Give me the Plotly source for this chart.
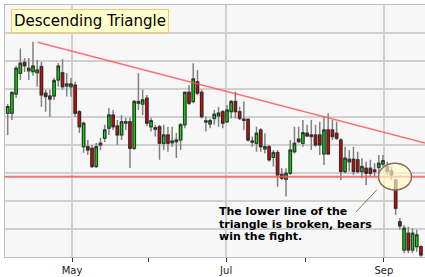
import plotly.graph_objects as go

# ---- data (daily OHLC, trading-day index) ----
opens = [35.13, 35.13, 35.82, 36.56, 36.95, 36.65, 36.62, 36.58, 36.80, 35.85,
         35.75, 35.75, 36.32, 36.58, 36.11, 36.08, 36.14, 35.19, 33.94, 33.94,
         33.88, 33.23, 34.00, 34.24, 34.60, 35.07, 34.68, 34.36, 34.78, 34.83,
         33.88, 35.49, 35.46, 35.67, 34.65, 34.56, 34.65, 34.06, 34.36, 34.08,
         34.12, 34.18, 34.72, 35.88, 35.55, 36.26, 35.88, 34.82, 34.75, 34.95,
         35.04, 35.19, 34.83, 35.19, 35.55, 35.19, 34.88, 34.92, 34.10, 34.06,
         34.54, 33.86, 33.94, 33.56, 33.73, 32.95, 32.78, 32.99, 33.76, 34.21,
         34.06, 34.42, 34.30, 34.36, 34.36, 33.68, 34.54, 34.54, 34.42, 34.18,
         33.05, 33.40, 33.49, 33.47, 33.05, 33.17, 33.17, 33.05, 33.20, 33.32,
         33.23, 33.08, 32.75, 31.26, 30.25, 30.85, 30.25, 30.37, 30.37]
highs = [35.46, 35.93, 36.82, 37.45, 37.11, 37.11, 37.69, 37.04, 36.97, 35.97,
         35.97, 36.39, 36.93, 37.07, 36.57, 36.39, 36.26, 35.25, 34.83, 34.18,
         34.00, 34.07, 34.25, 34.72, 35.32, 35.25, 34.89, 35.07, 34.97, 34.97,
         35.61, 36.56, 35.97, 35.79, 34.97, 34.72, 34.72, 34.72, 34.65, 34.65,
         34.43, 34.79, 35.90, 36.14, 36.92, 36.68, 35.97, 35.01, 34.95, 35.25,
         35.36, 35.25, 35.43, 35.61, 35.90, 35.37, 35.55, 34.95, 34.30, 34.65,
         34.60, 34.42, 34.00, 33.82, 33.82, 33.17, 33.17, 34.18, 34.65, 34.65,
         34.89, 34.72, 34.89, 34.72, 34.83, 35.01, 35.13, 34.89, 34.83, 34.24,
         33.94, 33.82, 33.94, 33.76, 33.53, 33.40, 33.47, 33.35, 33.64, 33.64,
         33.40, 33.23, 32.81, 31.39, 31.14, 31.08, 31.03, 30.97, 30.43]
lows = [34.36, 34.89, 35.68, 36.32, 36.61, 36.32, 36.47, 36.08, 35.37, 35.19,
        35.01, 35.61, 36.08, 35.97, 35.73, 35.72, 35.01, 34.43, 33.72, 33.64,
        33.18, 33.18, 33.82, 34.11, 34.36, 34.54, 34.00, 34.18, 34.54, 33.18,
        33.82, 35.25, 35.07, 34.68, 34.48, 34.30, 33.47, 33.82, 33.76, 33.94,
        33.54, 33.82, 34.60, 35.43, 35.49, 35.79, 34.95, 34.48, 34.60, 34.72,
        34.65, 34.60, 34.78, 34.95, 34.95, 34.89, 34.54, 34.12, 33.94, 33.76,
        33.76, 33.70, 33.40, 33.23, 32.51, 32.75, 32.16, 32.93, 33.70, 34.06,
        33.94, 34.30, 33.82, 33.94, 33.64, 33.29, 33.64, 34.18, 34.18, 32.75,
        32.99, 33.05, 32.93, 32.99, 32.81, 32.57, 32.87, 32.87, 32.99, 33.23,
        32.93, 32.75, 31.50, 30.97, 30.13, 30.13, 30.13, 30.19, 30.01]
closes = [35.37, 35.87, 36.74, 36.92, 36.83, 36.74, 36.82, 36.68, 35.79, 35.73,
          35.64, 36.30, 36.82, 36.08, 36.18, 36.18, 35.13, 34.65, 34.78, 33.82,
          33.23, 33.94, 34.06, 34.54, 35.07, 34.65, 34.36, 34.83, 34.83, 33.88,
          35.55, 35.55, 35.61, 34.78, 34.87, 34.62, 34.06, 34.36, 34.06, 34.14,
          34.18, 34.72, 35.88, 35.49, 36.36, 35.85, 35.01, 34.86, 34.87, 35.10,
          35.14, 34.78, 35.25, 35.55, 35.19, 34.95, 34.92, 34.18, 34.14, 34.42,
          33.94, 33.94, 33.47, 33.73, 32.93, 32.81, 32.99, 33.82, 34.06, 34.12,
          34.44, 34.32, 34.36, 34.00, 34.00, 34.54, 33.68, 34.30, 34.24, 33.05,
          33.53, 33.49, 33.05, 33.05, 33.23, 32.99, 32.99, 33.11, 33.35, 33.44,
          33.05, 32.93, 31.74, 31.11, 31.03, 30.25, 30.85, 30.79, 30.07]
days = list(range(len(opens)))

month_labels = ["May", "Jul", "Sep"]
month_pos = [15.25, 51.8, 89.2]
minor_month_pos = [33.3, 70.7]

support_level = 32.87
resistance_x = [7.1, 98.96]
resistance_y = [37.67, 34.07]

ellipse_center = (91.84, 32.87)
ellipse_radius = (3.91, 0.475)
pointer_x = [82.6, 87.5]
pointer_y = [31.61, 32.39]

title_text = "Descending Triangle"
note_lines = ["The lower line of the", "triangle is broken, bears", "win the fight."]
note_x = 49.6
note_y = [31.62, 31.17, 30.73]

x_range = [-0.64, 98.96]
y_range = [30, 39]

GREEN = "#00e600"
RED = "#e60000"

fig = go.Figure()

# trend lines (behind candles)
fig.add_trace(go.Scatter(x=x_range, y=[support_level, support_level], mode="lines",
                         line=dict(color="rgba(255,80,80,0.8)", width=2),
                         showlegend=False, hoverinfo="skip"))
fig.add_trace(go.Scatter(x=resistance_x, y=resistance_y, mode="lines",
                         line=dict(color="rgba(255,80,80,0.8)", width=1.5),
                         showlegend=False, hoverinfo="skip"))

# wicks layer
fig.add_trace(go.Candlestick(
    x=days, open=opens, high=highs, low=lows, close=closes,
    increasing=dict(line=dict(color="#808080", width=1.5), fillcolor=GREEN),
    decreasing=dict(line=dict(color="#808080", width=1.5), fillcolor=RED),
    whiskerwidth=0, showlegend=False, hoverinfo="skip"))

# bodies layer
body_hi = [max(o, c) for o, c in zip(opens, closes)]
body_lo = [min(o, c) for o, c in zip(opens, closes)]
fig.add_trace(go.Candlestick(
    x=days, open=opens, high=body_hi, low=body_lo, close=closes,
    increasing=dict(line=dict(color="#2a2a2a", width=1), fillcolor=GREEN),
    decreasing=dict(line=dict(color="#2a2a2a", width=1), fillcolor=RED),
    whiskerwidth=0, showlegend=False, hoverinfo="skip"))

shapes = [
    dict(type="line", xref="x", yref="y",
         x0=pointer_x[0], y0=pointer_y[0], x1=pointer_x[1], y1=pointer_y[1],
         line=dict(color="#8b6b5b", width=1)),
    dict(type="circle", xref="x", yref="y", layer="above",
         x0=ellipse_center[0] - ellipse_radius[0], x1=ellipse_center[0] + ellipse_radius[0],
         y0=ellipse_center[1] - ellipse_radius[1], y1=ellipse_center[1] + ellipse_radius[1],
         fillcolor="rgba(255,255,205,0.65)", line=dict(color="#8b6b5b", width=1.5)),
]

annotations = [
    dict(text=title_text, xref="paper", yref="paper", x=0.0143, y=0.984,
         xanchor="left", yanchor="top", showarrow=False,
         font=dict(family="DejaVu Sans", size=15, color="#000"),
         bgcolor="#ffffcc", bordercolor="#f5c86a", borderwidth=1, borderpad=2),
]
for line_text, yy in zip(note_lines, note_y):
    annotations.append(dict(text="<b>" + line_text + "</b>", xref="x", yref="y",
                            x=note_x, y=yy, xanchor="left", yanchor="middle",
                            showarrow=False,
                            font=dict(family="DejaVu Sans", size=11, color="#000")))

fig.update_layout(
    width=425, height=277,
    margin=dict(l=5, r=0, t=5, b=20),
    paper_bgcolor="#ffffff", plot_bgcolor="#f7f7f7",
    shapes=shapes, annotations=annotations,
    showlegend=False,
    boxgap=0.2,
    xaxis=dict(range=x_range, tickmode="array", tickvals=month_pos, ticktext=month_labels,
               ticks="outside", ticklen=4, tickcolor="#333", tickwidth=1,
               showgrid=True, gridcolor="#d0d0d0", gridwidth=1.5,
               minor=dict(tickmode="array", tickvals=minor_month_pos, ticks="outside",
                          ticklen=4, tickcolor="#333", showgrid=False),
               showline=True, linecolor="#bdbdbd", linewidth=1, mirror=True,
               zeroline=False, rangeslider=dict(visible=False),
               tickfont=dict(family="DejaVu Sans", size=10, color="#222")),
    yaxis=dict(range=y_range, dtick=1, tick0=30, showticklabels=False,
               showgrid=True, gridcolor="#d0d0d0", gridwidth=1.5,
               showline=True, linecolor="#bdbdbd", linewidth=1,
               zeroline=False, ticks=""),
)

fig.write_html("out.html")
